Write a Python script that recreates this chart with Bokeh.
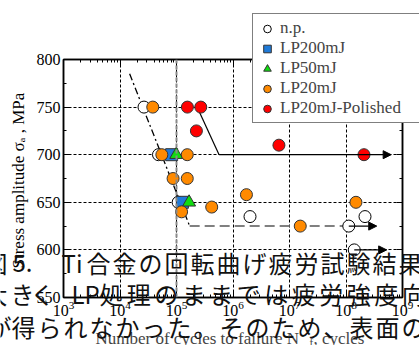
from math import pi
from bokeh.plotting import figure
from bokeh.layouts import column
from bokeh.models import (Range1d, LogAxis, LinearAxis, SingleIntervalTicker, LogTicker,
                          Legend, LegendItem, Label, Arrow, NormalHead, Span, CustomJSTickFormatter)
from bokeh.embed import file_html
from bokeh.resources import INLINE

# ---------------- data ----------------
np_cycles = [2.66e4, 4.8e4, 1.07e5, 2.0e6, 1.12e8, 2.17e8, 1.4e8]
np_stress = [750, 700, 650, 635, 625, 635, 600]
lp200_cycles = [8.2e4, 1.27e5]
lp200_stress = [700, 650]
lp50_cycles = [9.9e4, 1.67e5]
lp50_stress = [700, 650]
lp20_cycles = [3.8e4, 5.5e4, 1.55e5, 8.7e4, 1.55e5, 1.23e5, 4.2e5, 1.73e6, 1.55e7, 1.5e8]
lp20_stress = [750, 700, 700, 675, 675, 640, 645, 658, 625, 650]
pol_cycles = [1.56e5, 2.69e5, 2.25e5, 6.5e6, 2.08e8]
pol_stress = [750, 750, 725, 710, 700]

np_trend_cycles = [1.48e4, 1.71e5]
np_trend_stress = [785, 625]
np_limit_cycles = [1.71e5, 1.12e8]
np_limit_stress = [625, 625]
pol_trend_cycles = [2.2e5, 5.67e5]
pol_trend_stress = [753, 700]
runout_start = [1.12e8, 1.4e8, 5.67e5]
runout_end = [3.5e8, 5.25e8, 6.3e8]
runout_stress = [625, 600, 700]
ref_cycles = 1e5

y_ticks_interval = 50
series_labels = ["n.p.", "LP200mJ", "LP50mJ", "LP20mJ", "LP20mJ-Polished"]
y_title = "Stress amplitude  σₐ , MPa"

# overlaid Japanese text: (text, left x, pitch per character or None for a single run)
caption_lines = [
    [("図", -18, 26), ("5.", 12, None), ("Ti", 61, None), ("合金の回転曲げ疲労試験結果", 85, 26)],
    [("大", -18, 26), ("きく", 12, 20), ("LP", 71, None), ("処理のままでは疲労強度向", 97, 27.5)],
    [("が", -14, 26), ("得られなかった。そのため、表面の", 10, 26)],
]
caption_centers = [262, 293, 326]

SERIF = "Liberation Serif"
CJK = "Noto Sans CJK JP"
W, H = 419, 345

# ---------------- main chart ----------------
p = figure(width=W, height=H, x_axis_type="log",
           x_range=Range1d(1e3, 1e9), y_range=Range1d(550, 800),
           output_backend="svg", toolbar_location=None,
           min_border_left=63, min_border_right=17, min_border_top=59, min_border_bottom=48)
p.outline_line_color = "black"
p.outline_line_width = 1.5
p.background_fill_color = "white"
p.border_fill_color = "white"

p.yaxis.ticker = SingleIntervalTicker(interval=y_ticks_interval, num_minor_ticks=2)
p.xaxis.ticker = LogTicker(num_minor_ticks=10)

blank = CustomJSTickFormatter(code="return ''")

def style_axis(ax, labels=True):
    ax.axis_line_color = "black"
    ax.axis_line_width = 1.5
    ax.major_tick_in = 6
    ax.major_tick_out = 0
    ax.minor_tick_in = 3
    ax.minor_tick_out = 0
    ax.major_tick_line_color = "black"
    ax.minor_tick_line_color = "black"
    if labels:
        ax.major_label_text_font = SERIF
        ax.major_label_text_color = "black"
    else:
        ax.formatter = blank
        ax.major_label_standoff = 0

style_axis(p.xaxis[0])
p.xaxis[0].major_label_text_font_size = "16px"
p.xaxis[0].major_label_standoff = 3
ya = p.yaxis[0]
style_axis(ya)
ya.major_label_text_font_size = "16px"
ya.major_label_standoff = 3
ya.axis_label = y_title
ya.axis_label_text_font = SERIF
ya.axis_label_text_font_size = "17px"
ya.axis_label_text_font_style = "normal"
ya.axis_label_text_color = "black"
ya.axis_label_standoff = 6

top = LogAxis(ticker=LogTicker(num_minor_ticks=10))
style_axis(top, labels=False)
p.add_layout(top, "above")
right = LinearAxis(ticker=SingleIntervalTicker(interval=y_ticks_interval, num_minor_ticks=2))
style_axis(right, labels=False)
p.add_layout(right, "right")

for g in (p.xgrid[0], p.ygrid[0]):
    g.grid_line_color = "black"
    g.grid_line_dash = "3 2"
    g.grid_line_width = 1

p.add_layout(Span(location=ref_cycles, dimension="height", line_color="#8a8a8a",
                  line_dash="4 2", line_width=2))

p.line(np_trend_cycles, np_trend_stress, line_color="black", line_width=1.3, line_dash="7 3 2 3")
p.line(np_limit_cycles, np_limit_stress, line_color="#808080", line_width=2, line_dash="10 5")
p.line(pol_trend_cycles, pol_trend_stress, line_color="black", line_width=1.2)
for xs, xe, yv in zip(runout_start, runout_end, runout_stress):
    p.add_layout(Arrow(x_start=xs, y_start=yv, x_end=xe, y_end=yv, line_color="black", line_width=1.2,
                       end=NormalHead(size=8, fill_color="black", line_color="black")))

styles = [
    dict(marker="circle", size=12, fill_color="white", line_color="black"),
    dict(marker="square", size=12, fill_color="#1f7ad8", line_color="#333333"),
    dict(marker="triangle", size=13, fill_color="#10dd10", line_color="#333333"),
    dict(marker="circle", size=12, fill_color="#ff8a00", line_color="#333333"),
    dict(marker="circle", size=12, fill_color="#ff0000", line_color="#333333"),
]
series = [(np_cycles, np_stress), (lp200_cycles, lp200_stress), (lp50_cycles, lp50_stress),
          (lp20_cycles, lp20_stress), (pol_cycles, pol_stress)]
for (xs, ys), st in zip(series, styles):
    p.scatter(xs, ys, line_width=1, **st)

# ---------------- overlay (texts and legend, not clipped to the frame) ----------------
ov = figure(width=W, height=H, x_range=Range1d(0, W), y_range=Range1d(0, H),
            x_axis_type=None, y_axis_type=None, output_backend="svg", toolbar_location=None,
            min_border=0, outline_line_color=None)
ov.background_fill_alpha = 0
ov.border_fill_alpha = 0
ov.margin = (-H, 0, 0, 0)
for fig in (p, ov):
    try:
        fig.frame_align = False
    except Exception:
        pass

# legend swatches: hidden copies of the series (only their legend glyphs are shown)
leg_r = [ov.scatter(xs, ys, line_width=1, visible=False, **st) for (xs, ys), st in zip(series, styles)]
legend = Legend(items=[LegendItem(label=l, renderers=[r]) for l, r in zip(series_labels, leg_r)],
                location=(252, H - 123), label_text_font=SERIF, label_text_font_size="17px",
                label_height=19, glyph_height=19, glyph_width=20, label_standoff=3,
                label_width=140, spacing=0, padding=4, margin=0,
                border_line_color="black", border_line_width=1.2,
                background_fill_color="white", background_fill_alpha=1)
ov.add_layout(legend)

def lab(text, px, py, **kw):
    ov.add_layout(Label(x=px, y=H - py, x_units="screen", y_units="screen", text=text, **kw))

lab("Number of cycles to failure  N", 95, 338, text_font=SERIF, text_font_size="17px",
    text_baseline="alphabetic")
lab("f", 309, 341, text_font=SERIF, text_font_size="11px", text_baseline="alphabetic")
lab(", cycles", 313, 338, text_font=SERIF, text_font_size="17px", text_baseline="alphabetic")

for segs, cy in zip(caption_lines, caption_centers):
    for t, x0, pitch in segs:
        if pitch is None:
            lab(t, x0, cy, text_font=CJK, text_font_size="24px", text_baseline="middle",
                text_color="#111111")
        else:
            for i, ch in enumerate(t):
                lab(ch, x0 + i * pitch + pitch / 2, cy, text_font=CJK, text_font_size="24px",
                    text_baseline="middle", text_align="center", text_color="#111111")

layout = column(p, ov, spacing=0)
open("out.html", "w").write(file_html(layout, INLINE))
